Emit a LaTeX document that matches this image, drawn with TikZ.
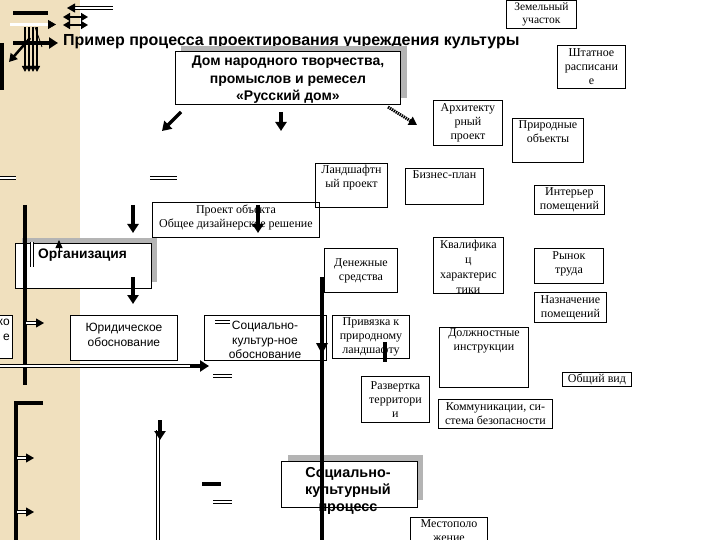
\documentclass[tikz,border=0pt]{standalone}
\usepackage{fontspec}
\setmainfont{Liberation Serif}
\setsansfont{Liberation Sans}
\usetikzlibrary{arrows.meta}
\definecolor{beige}{RGB}{240,224,190}
\definecolor{shadowgray}{RGB}{180,180,180}
\begin{document}
\begin{tikzpicture}[x=1pt,y=-1pt,
  box/.style={draw=black, line width=0.9pt, fill=white, inner sep=0pt, anchor=north west},
  shadowbox/.style={fill=shadowgray, draw=none},
  stxt/.style={font=\fontsize{12}{14}\selectfont, align=center, inner sep=0pt},
  sanstxt/.style={font=\sffamily\fontsize{12}{14.5}\selectfont, align=center, inner sep=0pt},
  boldtxt/.style={font=\sffamily\bfseries\fontsize{14}{17.5}\selectfont, align=center, inner sep=0pt},
  thk/.style={line width=3.5pt, -{Triangle[width=11pt,length=9pt]}},
  dbl/.style={double, double distance=2.2pt, line width=0.8pt},
  dblarrow/.style={double, double distance=2.2pt, line width=0.8pt, -{Triangle[width=9pt,length=8pt]}},
  heavybar/.style={line width=4pt},
]
\useasboundingbox (0,0) rectangle (720,540);
\clip (0,0) rectangle (720,540);
\fill[white] (0,0) rectangle (720,540);
\fill[beige] (0,0) rectangle (80,540);

% ---------- top-left garble ----------
\draw[heavybar] (13,13) -- (48,13);
\draw[dblarrow] (10,24.5) -- (56,24.5);
\draw[heavybar] (2,43) -- (2,90);
\foreach \xx in {25,29,33,37}{\draw[line width=2pt,-{Triangle[width=6pt,length=6pt]}] (\xx,27) -- (\xx,72);}
\draw[line width=0.8pt] (35,27) -- (42,47);
\draw[thk] (13,43) -- (58,43);
\draw[line width=2.5pt,-{Triangle[width=9pt,length=8pt]}] (30,38) -- (9,62);
\draw[dblarrow] (113,8) -- (67,8);
\draw[line width=1.5pt,{Triangle[width=8pt,length=7pt]}-{Triangle[width=8pt,length=7pt]}] (63,17) -- (88,17);
\draw[line width=1.5pt,{Triangle[width=8pt,length=7pt]}-{Triangle[width=8pt,length=7pt]}] (63,25) -- (88,25);

% ---------- title ----------
\node[font=\sffamily\bfseries\fontsize{16}{19}\selectfont, anchor=west, inner sep=0pt] (title) at (63,42) {Пример процесса проектирования учреждения культуры};

% ---------- boxes ----------
\node[box, minimum width=70pt, minimum height=28pt] (zem) at (506,0) {};
\node[stxt, font=\fontsize{11.5}{13.5}\selectfont, anchor=north] (zemt) at ([yshift=-2pt]zem.north) {Земельный\\участок};

\fill[shadowbox] (181,46) rectangle (407,98);
\node[box, minimum width=225pt, minimum height=53pt] (dom) at (175,51) {};
\node[boldtxt] (domt) at ([yshift=-2pt]dom.center) {Дом народного творчества,\\промыслов и ремесел\\«Русский дом»};

\node[box, minimum width=68pt, minimum height=43pt] (sht) at (557,45) {};
\node[stxt] (shtt) at (sht.center) {Штатное\\расписани\\е};

\node[box, minimum width=69pt, minimum height=45pt] (arch) at (433,100) {};
\node[stxt] (archt) at (arch.center) {Архитекту\\рный\\проект};

\node[box, minimum width=71pt, minimum height=44pt] (prir) at (512,118) {};
\node[stxt, anchor=north] (prirt) at ([yshift=-2pt]prir.north) {Природные\\объекты};

\node[box, minimum width=167pt, minimum height=35pt] (proj) at (152,202) {};
\node[stxt] (projt) at ([yshift=2pt]proj.center) {Проект объекта\\Общее дизайнерское решение};

\node[box, fill=none, minimum width=72pt, minimum height=44pt] (land) at (315,163) {};
\node[stxt, anchor=north] (landt) at ([yshift=-2pt]land.north) {Ландшафтн\\ый проект};

\node[box, minimum width=78pt, minimum height=36pt] (biz) at (405,168) {};
\node[stxt, anchor=north] (bizt) at ([yshift=-2pt]biz.north) {Бизнес-план};

\node[box, minimum width=70pt, minimum height=29pt] (inter) at (534,185) {};
\node[stxt] (intert) at (inter.center) {Интерьер\\помещений};

\fill[shadowbox] (22,238) rectangle (157,282);
\node[box, minimum width=136pt, minimum height=45pt] (org) at (15,243) {};
\node[font=\sffamily\bfseries\fontsize{13.8}{16}\selectfont, anchor=west, inner sep=0pt] (orgt) at (38,255) {Организация};

\node[box, minimum width=73pt, minimum height=44pt] (den) at (324,248) {};
\node[stxt] (dent) at (den.center) {Денежные\\средства};

\node[box, minimum width=70pt, minimum height=56pt] (kval) at (433,237) {};
\node[stxt, font=\fontsize{12}{15}\selectfont] (kvalt) at ([yshift=-1pt]kval.center) {Квалифика\\ц\\характерис\\тики};

\node[box, minimum width=69pt, minimum height=35pt] (rynok) at (534,248) {};
\node[stxt] (rynokt) at ([yshift=2pt]rynok.center) {Рынок\\труда};

\node[box, minimum width=72pt, minimum height=30pt] (nazn) at (534,292) {};
\node[stxt] (naznt) at (nazn.center) {Назначение\\помещений};

\node[box, minimum width=22pt, minimum height=43pt] (ko) at (-10,315) {};
\node[sanstxt, anchor=north east, align=right] (kot) at (10,319) {ко\\е};

\node[box, minimum width=107pt, minimum height=45pt] (yur) at (70,315) {};
\node[sanstxt] (yurt) at ([yshift=3pt]yur.center) {Юридическое\\обоснование};

\node[box, minimum width=122pt, minimum height=45pt] (soc) at (204,315) {};
\node[sanstxt] (soct) at (265,340) {Социально-\\культур-ное\\обоснование};

\node[box, minimum width=77pt, minimum height=43pt] (priv) at (332,315) {};
\node[stxt] (privt) at (priv.center) {Привязка к\\природному\\ландшафту};

\node[box, minimum width=89pt, minimum height=60pt] (dolzh) at (439,327) {};
\node[stxt, anchor=north] (dolzht) at ([yshift=-1pt]dolzh.north) {Должностные\\инструкции};

\node[box, minimum width=69pt, minimum height=14pt] (obsh) at (562,372) {};
\node[stxt] (obsht) at (obsh.center) {Общий вид};

\node[box, minimum width=68pt, minimum height=46pt] (razv) at (361,376) {};
\node[stxt] (razvt) at (razv.center) {Развертка\\территори\\и};

\node[box, minimum width=114pt, minimum height=29pt] (komm) at (438,399) {};
\node[stxt] (kommt) at (komm.center) {Коммуникации, си-\\стема безопасности};

\fill[shadowbox] (288,455) rectangle (423,500);
\node[box, minimum width=136pt, minimum height=46pt] (socp) at (281,461) {};
\node[boldtxt, font=\sffamily\bfseries\fontsize{14.4}{17}\selectfont] (socpt) at (348,491) {Социально-\\культурный\\процесс};

\node[box, minimum width=77pt, minimum height=40pt] (mest) at (410,517) {};
\node[stxt, anchor=north] (mestt) at ([yshift=-2pt]mest.north) {Местополо\\жение};

% ---------- arrows and bars ----------
\coordinate (a1s) at (181,112); \coordinate (a1e) at (162,131);
\draw[thk] (a1s) -- (a1e);
\coordinate (a2s) at (281,112); \coordinate (a2e) at (281,131);
\draw[thk] (a2s) -- (a2e);
\coordinate (a3s) at (388,107); \coordinate (a3e) at (417,125);
\draw[line width=3pt, dash pattern=on 1.4pt off 0.9pt, -{Triangle[width=9pt,length=8pt]}] (a3s) -- (a3e);

\coordinate (a4s) at (133,205); \coordinate (a4e) at (133,233);
\draw[thk] (a4s) -- (a4e);
\coordinate (a5s) at (258,205); \coordinate (a5e) at (258,233);
\draw[thk] (a5s) -- (a5e);
\coordinate (a6s) at (133,277); \coordinate (a6e) at (133,304);
\draw[thk] (a6s) -- (a6e);

\draw[dbl] (0,178) -- (16,178);
\draw[dbl] (150,178) -- (177,178);

\draw[heavybar] (25,205) -- (25,385);
\draw[dbl] (32,242) -- (32,267);
\draw[-{Triangle[width=7pt,length=8pt]}, line width=0.8pt] (59,252) -- (59,240);
\draw[dblarrow] (26,323) -- (44,323);

\coordinate (b2s) at (322,277); \coordinate (b2e) at (322,540);
\draw[heavybar] (b2s) -- (b2e);
\fill (316,343) -- (328,343) -- (322,354) -- cycle;

\draw[heavybar] (385,342) -- (385,362);

\draw[dbl] (215,322) -- (230,322);
\draw[dbl] (0,366) -- (200,366);
\draw[thk] (190,366) -- (209,366);
\draw[dbl] (213,376) -- (232,376);

\draw[heavybar, line cap=butt] (43,403) -- (16,403) -- (16,540);
\draw[dblarrow] (17,458) -- (34,458);
\draw[dblarrow] (17,512) -- (34,512);

\draw[dbl] (158,430) -- (158,540);
\draw[thk] (160,420) -- (160,440);

\draw[heavybar] (202,484) -- (221,484);
\draw[dbl] (213,502) -- (232,502);

\end{tikzpicture}
\end{document}
